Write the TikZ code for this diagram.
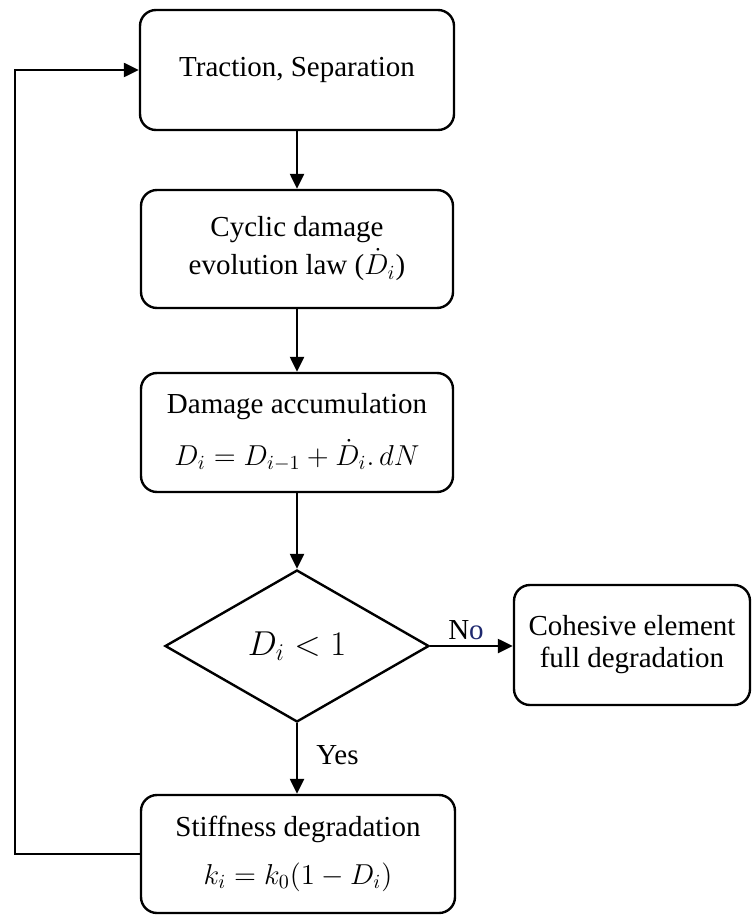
\documentclass[tikz,border=0pt]{standalone}
\usepackage{fontspec}
\setmainfont{Liberation Serif}
\usetikzlibrary{shapes.geometric,arrows.meta}
\definecolor{navyo}{RGB}{30,40,110}
\begin{document}
\begin{tikzpicture}[x=0.5pt,y=-0.5pt,
  every node/.style={font=\fontsize{14.5}{17}\selectfont},
  box/.style={draw,line width=1.2pt,rounded corners=8pt,align=center,inner sep=0pt},
  arr/.style={line width=1.2pt,-{Triangle[length=7.5pt,width=7pt]}},
  conn/.style={line width=1.2pt}]
\useasboundingbox (0,0) rectangle (752,915);
\node[box,minimum width=157pt,minimum height=60pt] (b1) at (297,70) {Traction, Separation};
\node[box,minimum width=156pt,minimum height=59pt] (b2) at (297,249) {Cyclic damage\\[2pt] evolution law ($\dot{D}_i$)};
\node[box,minimum width=156pt,minimum height=59.5pt] (b3) at (297,432.5) {Damage accumulation\\[9pt] $D_i = D_{i-1} + \dot{D}_i.\,dN$};
\node[draw,line width=1.2pt,shape=diamond,aspect=1.737,minimum width=132pt,minimum height=76pt,inner sep=0pt] (d) at (297,646) {{\fontsize{17.5}{18}\selectfont$D_i < 1$}};
\node[box,minimum width=118pt,minimum height=60pt] (c) at (632,645) {Cohesive element\\[-1pt] full degradation};
\node[box,minimum width=157pt,minimum height=59pt] (b5) at (298,854) {Stiffness degradation\\[7pt] $k_i = k_0(1 - D_i)$};
\coordinate (lx) at (15,854);
\draw[arr] (b1) -- (b2);
\draw[arr] (b2) -- (b3);
\draw[arr] (b3) -- (d);
\draw[arr] (d.south) -- (d.south |- b5.north);
\draw[arr] (d.east) -- (d.east -| c.west);
\draw[conn,-{Triangle[length=7.5pt,width=7pt]}] (b5.west) -- (lx) |- (b1.west);
\node[anchor=south,inner sep=0pt] (no) at (466,640) {N\textcolor{navyo}{o}};
\node[anchor=west,inner sep=0pt] (yes) at (316,755) {Yes};
\end{tikzpicture}
\end{document}
